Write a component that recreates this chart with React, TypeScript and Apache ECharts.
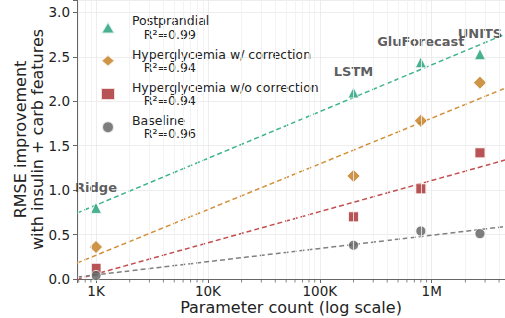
import React, { useEffect, useRef } from "react";
import * as echarts from "echarts";

const modelNames = ["Ridge", "LSTM", "GluForecast", "UNITS"];
const paramCounts = [1000, 200000, 800000, 2700000];
const postprandial = [0.8, 2.1, 2.44, 2.53];
const hyperWithCorr = [0.36, 1.16, 1.78, 2.21];
const hyperWithoutCorr = [0.12, 0.7, 1.015, 1.42];
const baseline = [0.04, 0.38, 0.54, 0.51];
const seriesNames = [
  "Postprandial",
  "Hyperglycemia w/ correction",
  "Hyperglycemia w/o correction",
  "Baseline",
];
const r2Labels = ["0.99", "0.94", "0.94", "0.96"];
const xTickLabels: Record<number, string> = { 1000: "1K", 10000: "10K", 100000: "100K", 1000000: "1M" };
const minorTickValues = [
  700, 800, 900, 2000, 3000, 4000, 5000, 6000, 7000, 8000, 9000,
  20000, 30000, 40000, 50000, 60000, 70000, 80000, 90000,
  200000, 300000, 400000, 500000, 600000, 700000, 800000, 900000,
  2000000, 3000000, 4000000,
];

const X_MIN = 676;
const X_MAX = 4520000;
const Y_MIN = 0;
const Y_MAX = 3.14;

const markerColors = ["#1b9e77", "#c27a1c", "#a8292c", "#5e5e5e"];
const lineColors = ["#3fb48d", "#d3903a", "#c24f4f", "#808080"];
const symbols = ["triangle", "diamond", "rect", "circle"];
const symbolSizes = [11, 13, 10, 10];

function fitLine(xs: number[], ys: number[]) {
  const lx = xs.map((v) => Math.log10(v));
  const n = lx.length;
  const mx = lx.reduce((a, b) => a + b, 0) / n;
  const my = ys.reduce((a, b) => a + b, 0) / n;
  let sxy = 0;
  let sxx = 0;
  for (let i = 0; i < n; i++) {
    sxy += (lx[i] - mx) * (ys[i] - my);
    sxx += (lx[i] - mx) * (lx[i] - mx);
  }
  const b = sxy / sxx;
  const a = my - b * mx;
  return [X_MIN, X_MAX].map((x) => [x, a + b * Math.log10(x)]);
}

const FONT = "DejaVu Sans";

export default function App() {
  const ref = useRef<HTMLDivElement>(null);
  useEffect(() => {
    if (!ref.current) return;
    const chart = echarts.init(ref.current, null, { renderer: "svg" });
    const allValues = [postprandial, hyperWithCorr, hyperWithoutCorr, baseline];

    const fitSeries: any[] = allValues.map((vals, i) => ({
      name: seriesNames[i] + " fit",
      type: "line",
      data: fitLine(paramCounts, vals),
      symbol: "none",
      z: 1,
      lineStyle: { color: lineColors[i], width: 1.5, type: [5, 3] },
      silent: true,
      ...(i === 3
        ? {
            markLine: {
              silent: true,
              symbol: "none",
              label: { show: false },
              lineStyle: { color: "#f0f0f0", width: 0.8, type: "solid" },
              data: minorTickValues.map((v) => ({ xAxis: v })),
            },
          }
        : {}),
    }));

    const scatterSeries: any[] = allValues.map((vals, i) => ({
      name: seriesNames[i],
      type: "scatter",
      z: 3,
      symbol: symbols[i],
      symbolSize: symbolSizes[i],
      itemStyle: { color: markerColors[i], borderColor: "#ffffff", borderWidth: 1 },
      data: vals.map((v, j) => ({ name: modelNames[j], value: [paramCounts[j], v] })),
      label:
        i === 0
          ? {
              show: true,
              position: "top",
              distance: 8,
              formatter: "{b}",
              fontFamily: FONT,
              fontWeight: "bold",
              fontSize: 13,
              color: "#333333",
            }
          : { show: false },
    }));

    const minorTicks = {
      name: "minorTicks",
      type: "scatter",
      silent: true,
      clip: false,
      z: 2,
      symbol: "rect",
      symbolSize: [1, 3],
      symbolOffset: [0, 2],
      itemStyle: { color: "#666666" },
      data: minorTickValues.map((v) => [v, 0]),
    };

    chart.setOption({
      animation: false,
      grid: { left: 77, right: 0, top: 0, bottom: 39, containLabel: false, outerBoundsMode: "none" },
      legend: {
        left: 95,
        top: 9,
        orient: "vertical",
        itemWidth: 14,
        itemHeight: 12,
        itemGap: 6,
        symbolKeepAspect: true,
        data: seriesNames.map((n, i) => ({ name: n, icon: symbols[i] })),
        formatter: (name: string) => {
          const i = seriesNames.indexOf(name);
          return "{a|   " + name + "}\n{a|      R²=" + r2Labels[i] + "}";
        },
        textStyle: {
          fontFamily: FONT,
          fontSize: 12.5,
          lineHeight: 13.6,
          color: "#222222",
          rich: { a: { fontFamily: FONT, fontSize: 12.5, lineHeight: 13.6, color: "#222222" } },
        },
      },
      xAxis: {
        type: "log",
        logBase: 10,
        min: X_MIN,
        max: X_MAX,
        name: "Parameter count (log scale)",
        nameLocation: "middle",
        nameGap: 20,
        nameMoveOverlap: false,
        nameTextStyle: { fontFamily: FONT, fontSize: 16, color: "#222222", lineHeight: 16 },
        axisLine: { show: true, lineStyle: { color: "#666666", width: 1 } },
        axisTick: { show: true, length: 4, inside: false, lineStyle: { color: "#666666" } },
        axisLabel: {
          fontFamily: FONT,
          fontSize: 13.5,
          lineHeight: 14,
          color: "#222222",
          margin: 5,
          showMinLabel: true,
          showMaxLabel: true,
          formatter: (v: number) => {
            const r = Math.round(v);
            return xTickLabels[r] || "";
          },
        },
        splitLine: { show: true, lineStyle: { color: "#e8e8e8", width: 0.8 } },
      },
      yAxis: {
        type: "value",
        min: Y_MIN,
        max: Y_MAX,
        interval: 0.5,
        name: "RMSE improvement\nwith insulin + carb features",
        nameLocation: "middle",
        nameGap: 31,
        nameMoveOverlap: false,
        nameTextStyle: { fontFamily: FONT, fontSize: 16, color: "#222222", lineHeight: 17 },
        axisLine: { show: true, lineStyle: { color: "#666666", width: 1 } },
        axisTick: { show: true, length: 4, inside: false, lineStyle: { color: "#666666" } },
        axisLabel: {
          fontFamily: FONT,
          fontSize: 13.5,
          color: "#222222",
          margin: 7,
          formatter: (v: number) => {
            const k = Math.round(v * 2);
            return Math.abs(v * 2 - k) < 1e-6 ? v.toFixed(1) : "";
          },
        },
        splitLine: { show: true, lineStyle: { color: "#e8e8e8", width: 0.8 } },
      },
      series: [...fitSeries, ...scatterSeries, minorTicks],
    });
    return () => chart.dispose();
  }, []);
  return (
    <div
      ref={ref}
      style={{ position: "absolute", left: 0, top: 0, width: 505, height: 318 }}
    />
  );
}
